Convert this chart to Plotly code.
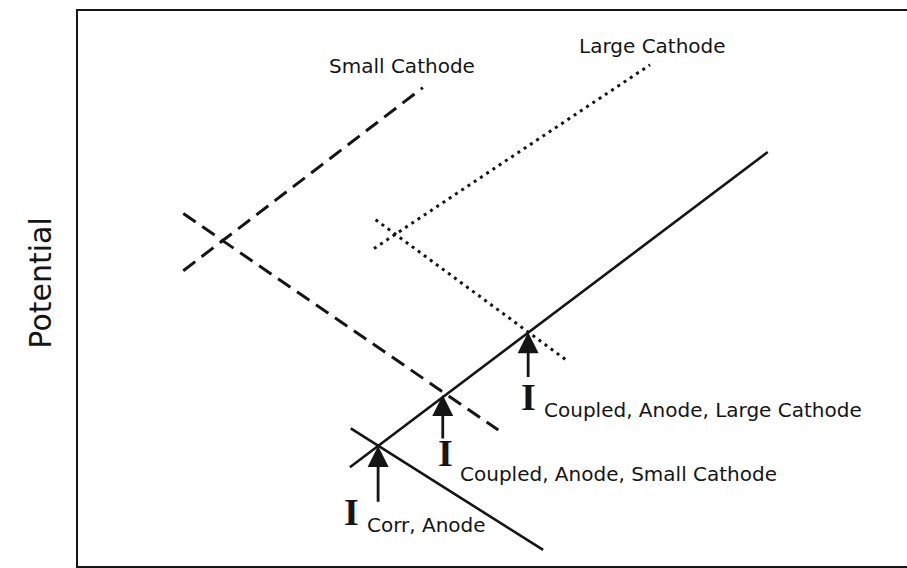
import plotly.graph_objects as go

# polarization lines (x = log current, y = potential, arbitrary units)
anode_x = [32.8, 83.2]
anode_y = [17.8, 74.6]
anode_cath_x = [32.9, 56.1]
anode_cath_y = [24.8, 2.9]
small_anodic_x = [12.7, 41.6]
small_anodic_y = [53.2, 86.2]
small_cathodic_x = [12.7, 50.7]
small_cathodic_y = [63.5, 24.5]
large_anodic_x = [35.7, 69.0]
large_anodic_y = [57.2, 90.3]
large_cathodic_x = [35.9, 58.9]
large_cathodic_y = [62.4, 37.1]

# current markers (arrows pointing up at the intersections)
arrow_x = [36.2, 44.0, 54.3]
arrow_tip = [21.6, 30.8, 42.1]
arrow_tail = [11.3, 22.7, 33.8]
arrow_subs = ["Corr, Anode", "Coupled, Anode, Small Cathode", "Coupled, Anode, Large Cathode"]

curve_names = ["Small Cathode", "Large Cathode"]

ink = "#151515"
font = "DejaVu Sans"

fig = go.Figure()

def add_line(x, y, dash, width):
    fig.add_trace(go.Scatter(x=x, y=y, mode="lines", showlegend=False, hoverinfo="skip",
                             line=dict(color=ink, width=width, dash=dash)))

add_line(anode_x, anode_y, "solid", 2.6)
add_line(anode_cath_x, anode_cath_y, "solid", 2.6)
add_line(small_anodic_x, small_anodic_y, "15px,8px", 3)
add_line(small_cathodic_x, small_cathodic_y, "15px,8px", 3)
add_line(large_anodic_x, large_anodic_y, "3px,4.5px", 3)
add_line(large_cathodic_x, large_cathodic_y, "3px,4.5px", 3)

# arrows
for x, tip, tail in zip(arrow_x, arrow_tip, arrow_tail):
    fig.add_annotation(x=x, y=tip, ax=x, ay=tail, xref="x", yref="y", axref="x", ayref="y",
                       text="", showarrow=True, arrowhead=2, arrowsize=1.5, arrowwidth=2.8,
                       arrowcolor=ink)

# "I" labels with subscripts
I_off = [(-3.15, -11.9), (0.3, -10.5), (0.0, -11.7)]
sub_off = [(-1.6, -14.2), (1.8, -14.3), (1.7, -14.0)]
for i, s in enumerate(arrow_subs):
    fig.add_annotation(x=arrow_x[i] + I_off[i][0], y=arrow_tip[i] + I_off[i][1], text="I",
                       showarrow=False, xanchor="center", yanchor="middle",
                       font=dict(family="Liberation Serif", size=38, color=ink, weight="bold"))
    fig.add_annotation(x=arrow_x[i] + sub_off[i][0], y=arrow_tip[i] + sub_off[i][1], text=s,
                       showarrow=False, xanchor="left", yanchor="middle",
                       font=dict(family=font, size=20, color=ink))

# curve names
fig.add_annotation(x=30.0, y=90.1, text=curve_names[0], showarrow=False,
                   xanchor="left", yanchor="middle", font=dict(family=font, size=20, color=ink))
fig.add_annotation(x=60.2, y=93.7, text=curve_names[1], showarrow=False,
                   xanchor="left", yanchor="middle", font=dict(family=font, size=20, color=ink))

# axis title
fig.add_annotation(x=-0.045, y=0.51, xref="paper", yref="paper", text="Potential",
                   textangle=-90, showarrow=False, xanchor="center", yanchor="middle",
                   font=dict(family=font, size=30, color=ink))

axis_common = dict(showgrid=False, zeroline=False, showticklabels=False, ticks="",
                   showline=True, linecolor=ink, linewidth=2, fixedrange=True)
fig.update_xaxes(range=[0, 100], mirror=True, **axis_common)
fig.update_yaxes(range=[0, 100], mirror=False, **axis_common)

fig.update_layout(width=907, height=568, margin=dict(l=78, r=0, t=11, b=2),
                  plot_bgcolor="white", paper_bgcolor="white", showlegend=False)

# drop the default 8px page margin so the figure sits at the window corner
fig.write_html("out.html", config={"displayModeBar": False},
               post_script="document.body.style.margin='0';document.body.style.overflow='hidden';")
